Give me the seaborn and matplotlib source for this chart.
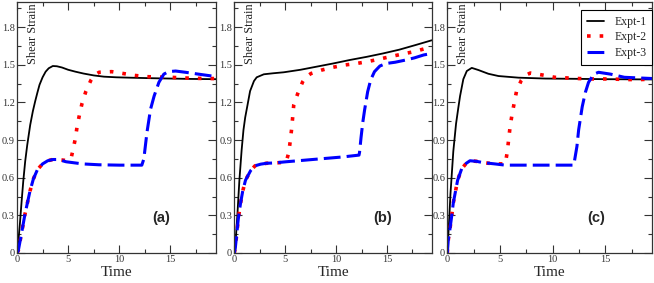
import pandas as pd
import matplotlib
matplotlib.use("Agg")
import matplotlib.pyplot as plt
import seaborn as sns
from matplotlib.ticker import MultipleLocator, FuncFormatter

# ---- panel (a) ----
a1_t = [0, 0.15, 0.29, 0.45, 0.61, 0.8, 1.0, 1.29, 1.55, 1.78, 2.0, 2.2, 2.5, 2.8, 3.1, 3.5,
        3.9, 4.4, 5.0, 5.7, 6.5, 7.5, 8.5, 9.7, 11, 13, 15, 17, 19.5]
a1_v = [0, 0.11, 0.24, 0.41, 0.57, 0.73, 0.86, 1.02, 1.13, 1.21, 1.28, 1.34, 1.40, 1.445, 1.472, 1.49,
        1.488, 1.478, 1.46, 1.445, 1.43, 1.415, 1.405, 1.40, 1.397, 1.393, 1.39, 1.387, 1.385]
a2_t = [0, 0.13, 0.45, 0.78, 1.26, 1.6, 2.0, 2.5, 3.0, 3.5, 4.0, 4.5, 5.0, 5.3, 5.44, 5.7, 5.86,
        6.1, 6.35, 6.74, 7.22, 7.6, 8.03, 9.26, 10.4, 11.5, 12.7, 13.9, 15.06, 16.2, 17.4, 18.56, 19.5]
a2_v = [0, 0.02, 0.16, 0.31, 0.49, 0.59, 0.665, 0.71, 0.735, 0.745, 0.745, 0.74, 0.735, 0.76, 0.81,
        0.91, 1.0, 1.1, 1.19, 1.29, 1.376, 1.42, 1.44, 1.445, 1.43, 1.415, 1.405, 1.402, 1.40, 1.395,
        1.392, 1.39, 1.39]
a3_t = [0, 0.13, 0.45, 0.78, 1.26, 1.6, 2.0, 2.5, 3.0, 3.5, 4.0, 4.8, 6.4, 8.0, 10.0, 12.2, 12.4,
        12.47, 12.7, 13.05, 13.4, 13.87, 14.35, 14.8, 15.5, 16.46, 17.75, 19.5]
a3_v = [0, 0.02, 0.16, 0.31, 0.49, 0.59, 0.665, 0.71, 0.735, 0.745, 0.745, 0.727, 0.71, 0.703, 0.70,
        0.70, 0.75, 0.80, 0.96, 1.145, 1.25, 1.36, 1.425, 1.445, 1.45, 1.44, 1.425, 1.405]

# ---- panel (b) ----
b1_t = [0, 0.07, 0.3, 0.5, 0.72, 0.9, 1.07, 1.3, 1.55, 1.93, 2.2, 2.9, 3.8, 4.86, 6.5, 8.1, 9.7,
        11.35, 13.0, 14.6, 16.2, 17.8, 19.4]
b1_v = [0, 0.02, 0.3, 0.58, 0.82, 0.98, 1.08, 1.18, 1.29, 1.37, 1.40, 1.424, 1.432, 1.44, 1.46,
        1.485, 1.51, 1.538, 1.563, 1.59, 1.62, 1.657, 1.695]
b2_t = [0, 0.1, 0.39, 0.6, 0.82, 1.1, 1.6, 2.04, 2.6, 3.17, 3.8, 4.5, 5.1, 5.35, 5.5, 5.64, 5.84,
        6.23, 6.72, 7.0, 7.53, 8.6, 9.7, 10.85, 12.0, 13.1, 14.25, 15.4, 16.5, 17.7, 18.8, 19.4]
b2_v = [0, 0.04, 0.27, 0.39, 0.49, 0.58, 0.656, 0.695, 0.708, 0.715, 0.717, 0.72, 0.727, 0.80,
        0.895, 0.995, 1.18, 1.27, 1.365, 1.40, 1.43, 1.458, 1.48, 1.498, 1.51, 1.525, 1.545, 1.566,
        1.585, 1.605, 1.63, 1.645]
b3_t = [0, 0.1, 0.39, 0.6, 0.82, 1.1, 1.6, 2.04, 2.6, 3.17, 3.8, 5.1, 7.4, 9.0, 10.6, 12.25, 12.3,
        12.45, 12.62, 12.8, 13.1, 13.4, 13.77, 14.3, 14.9, 15.8, 16.85, 17.7, 18.6, 19.4]
b3_v = [0, 0.04, 0.27, 0.39, 0.49, 0.58, 0.656, 0.695, 0.708, 0.715, 0.717, 0.727, 0.743, 0.754,
        0.765, 0.78, 0.80, 0.92, 1.04, 1.14, 1.285, 1.38, 1.445, 1.49, 1.51, 1.52, 1.538, 1.555,
        1.578, 1.59]

# ---- panel (c) ----
c1_t = [0, 0.15, 0.3, 0.57, 0.83, 1.05, 1.21, 1.52, 1.85, 2.32, 2.95, 3.9, 4.86, 6.76, 9.3, 12, 15, 19.5]
c1_v = [0, 0.22, 0.47, 0.81, 1.03, 1.16, 1.25, 1.385, 1.45, 1.475, 1.458, 1.428, 1.41, 1.397, 1.39,
        1.388, 1.385, 1.383]
c2_t = [0, 0.1, 0.25, 0.41, 0.57, 0.98, 1.36, 1.8, 2.15, 2.8, 3.4, 4.5, 5.5, 5.6, 5.7, 5.82, 5.95,
        6.13, 6.35, 6.57, 7.02, 7.4, 7.88, 9.05, 10.2, 11.35, 12.5, 13.7, 14.8, 16, 17.2, 18.3, 19.5]
c2_v = [0, 0.11, 0.19, 0.29, 0.4, 0.58, 0.67, 0.715, 0.735, 0.73, 0.72, 0.71, 0.71, 0.76, 0.81,
        0.905, 1.0, 1.098, 1.196, 1.29, 1.376, 1.415, 1.434, 1.418, 1.40, 1.395, 1.39, 1.387, 1.387,
        1.385, 1.382, 1.382, 1.385]
c3_t = [0, 0.1, 0.25, 0.41, 0.57, 0.98, 1.36, 1.8, 2.15, 2.8, 3.4, 4.5, 5.5, 8.0, 10.0, 12.0, 12.3,
        12.46, 12.8, 13.1, 13.4, 13.9, 14.35, 15.5, 16.8, 19.5]
c3_v = [0, 0.11, 0.19, 0.29, 0.4, 0.58, 0.67, 0.715, 0.735, 0.73, 0.72, 0.71, 0.70, 0.70, 0.70,
        0.70, 0.85, 0.98, 1.165, 1.28, 1.36, 1.425, 1.44, 1.425, 1.40, 1.39]

series_names = ["Expt-1", "Expt-2", "Expt-3"]
panel_labels = ["(a)", "(b)", "(c)"]
panel_data = [
    [(a1_t, a1_v), (a2_t, a2_v), (a3_t, a3_v)],
    [(b1_t, b1_v), (b2_t, b2_v), (b3_t, b3_v)],
    [(c1_t, c1_v), (c2_t, c2_v), (c3_t, c3_v)],
]

rows = []
for p, panel in enumerate(panel_data):
    for name, (ts, vs) in zip(series_names, panel):
        for t, v in zip(ts, vs):
            rows.append({"panel": p, "series": name, "Time": t, "Strain": v})
df = pd.DataFrame(rows)

styles = {
    "Expt-1": dict(color="black", lw=1.3, linestyle="-"),
    "Expt-2": dict(color="red", lw=2.6, linestyle=(0, (1, 2.5))),
    "Expt-3": dict(color="blue", lw=2.2, linestyle=(0, (5.5, 2.0))),
}

sns.set_style("ticks")
plt.rcParams["font.family"] = ["Liberation Serif", "DejaVu Serif"]

W, H = 654, 283
fig = plt.figure(figsize=(W / 100, H / 100), dpi=100)
# left edge and width of each panel in pixels
boxes = [(17, 199), (234.3, 198), (447.3, 205)]
label_x = [0.724, 0.748, 0.725]

for p, (x0, w) in enumerate(boxes):
    ax = fig.add_axes([x0 / W, 30 / H, w / W, 251 / H])
    sub = df[df["panel"] == p]
    for name in series_names:
        s = sub[sub["series"] == name]
        sns.lineplot(data=s, x="Time", y="Strain", ax=ax, estimator=None, sort=False,
                     legend=False, label=name if p == 2 else "_nolegend_", **styles[name])
    ax.set_xlim(0, 19.45)
    ax.set_ylim(0, 2.0)
    ax.xaxis.set_major_locator(MultipleLocator(5))
    ax.xaxis.set_minor_locator(MultipleLocator(2.5))
    ax.yaxis.set_major_locator(MultipleLocator(0.3))
    ax.yaxis.set_minor_locator(MultipleLocator(0.15))
    ax.yaxis.set_major_formatter(FuncFormatter(lambda y, pos: "0" if abs(y) < 1e-9 else f"{y:.1f}"))
    ax.xaxis.set_major_formatter(FuncFormatter(lambda x, pos: f"{x:g}"))
    ax.tick_params(which="both", direction="in", top=True, right=True, width=0.8,
                   color="#333333", labelsize=7.5, labelcolor="#333333", pad=1.5)
    ax.tick_params(which="major", length=6)
    ax.tick_params(which="minor", length=3)
    for sp in ax.spines.values():
        sp.set_color("#333333")
        sp.set_linewidth(0.9)
    ax.set_xlabel("Time", fontsize=11, labelpad=1.5)
    ax.set_ylabel("")
    ax.text(0.078, 0.995, "Shear Strain", rotation=90, transform=ax.transAxes,
            ha="center", va="top", fontsize=8.8, color="#222222")
    ax.text(label_x[p], 0.14, panel_labels[p], transform=ax.transAxes, ha="center",
            va="center", fontsize=10.5, fontweight="bold", family=["Liberation Sans", "DejaVu Sans"])
    if p == 2:
        leg = ax.legend(loc="upper right", bbox_to_anchor=(1.0, 0.968), fontsize=8.5,
                        frameon=True, fancybox=False, edgecolor="black", framealpha=1,
                        borderpad=0.5, labelspacing=0.3, handlelength=1.4,
                        handletextpad=0.9, borderaxespad=0)
        leg.get_frame().set_linewidth(0.8)

fig.savefig("out.png", dpi=100)
